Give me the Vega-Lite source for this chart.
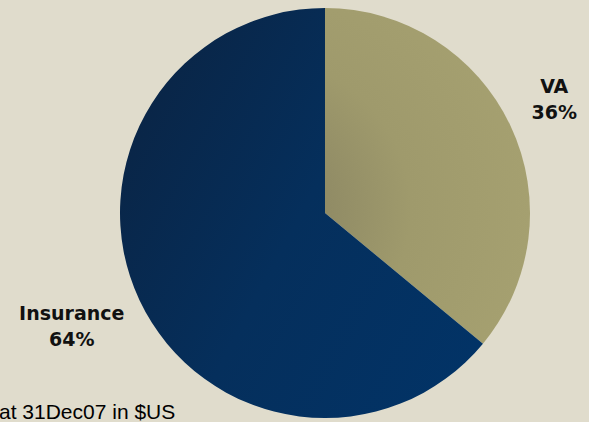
{
  "$schema": "https://vega.github.io/schema/vega-lite/v6.json",
  "width": 410,
  "height": 410,
  "autosize": {"type": "none"},
  "padding": {"left": 120, "top": 8, "right": 59, "bottom": 4},
  "background": "#e0dccc",
  "view": {"stroke": null},
  "title": {
    "text": "at 31Dec07 in $US",
    "orient": "bottom",
    "anchor": "start",
    "frame": "group",
    "dx": -121,
    "offset": 1,
    "baseline": "alphabetic",
    "font": "Liberation Sans",
    "fontSize": 21,
    "fontWeight": "normal",
    "color": "#000000"
  },
  "data": {
    "values": [
      {"Segment": "VA", "Share": 36, "Label": "VA\n36%"},
      {"Segment": "Insurance", "Share": 64, "Label": "Insurance\n64%"}
    ]
  },
  "encoding": {
    "theta": {"field": "Share", "type": "quantitative", "stack": true},
    "order": {"field": "Segment", "sort": "descending"}
  },
  "layer": [
    {
      "mark": {"type": "arc", "outerRadius": 205, "stroke": null},
      "encoding": {
        "color": {
          "condition": {
            "test": "datum.Segment === 'VA'",
            "value": {
              "gradient": "radial",
              "x1": 0, "y1": 0.6, "r1": 0,
              "x2": 0, "y2": 0.6, "r2": 1,
              "stops": [
                {"offset": 0, "color": "#858060"},
                {"offset": 0.45, "color": "#9f9a6c"},
                {"offset": 1, "color": "#a8a372"}
              ]
            }
          },
          "value": {
            "gradient": "linear",
            "x1": 0, "y1": 0.2, "x2": 1, "y2": 0.8,
            "stops": [
              {"offset": 0, "color": "#0a2444"},
              {"offset": 0.5, "color": "#052f5c"},
              {"offset": 1, "color": "#023366"}
            ]
          }
        }
      }
    },
    {
      "mark": {
        "type": "text",
        "radius": 266.6,
        "dx": -12,
        "dy": -12.5,
        "font": "DejaVu Sans",
        "fontSize": 19,
        "fontWeight": "bold",
        "lineBreak": "\n",
        "lineHeight": 26,
        "align": "center",
        "baseline": "middle",
        "color": "#111111"
      },
      "encoding": {
        "text": {"field": "Label", "type": "nominal"}
      }
    }
  ]
}
